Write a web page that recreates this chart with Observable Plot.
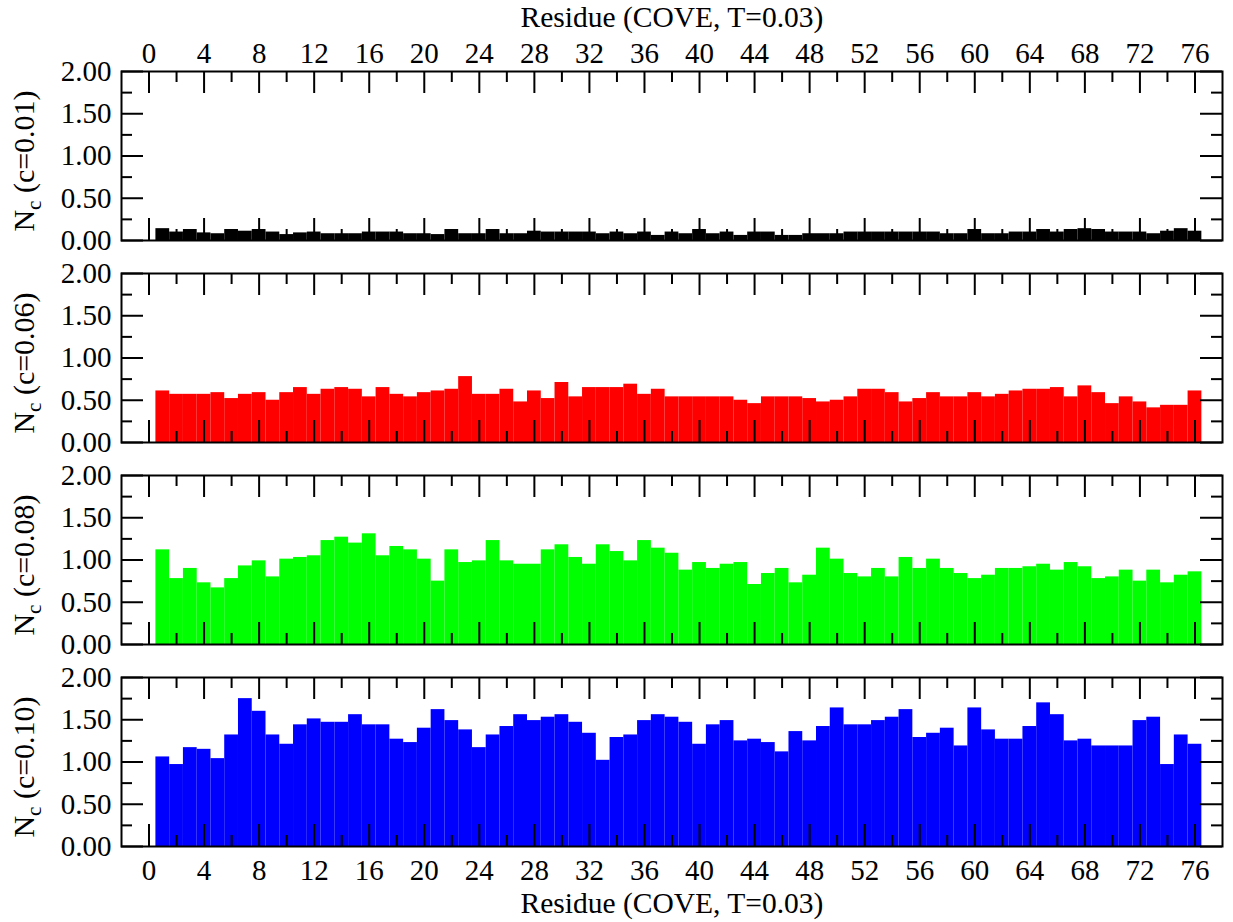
<!DOCTYPE html>
<html>
<head>
<meta charset="utf-8">
<script src="https://cdn.jsdelivr.net/npm/d3@7"></script>
<script src="https://cdn.jsdelivr.net/npm/@observablehq/plot@0.6"></script>
<style>
  body { margin: 0; background: #fff; }
  #chart svg { display: block; }
</style>
</head>
<body>
<div id="chart"></div>
<script>
// ---------- data ----------
const residues = [1,2,3,4,5,6,7,8,9,10,11,12,13,14,15,16,17,18,19,20,21,22,23,24,25,26,27,28,29,30,31,32,33,34,35,36,37,38,39,40,41,42,43,44,45,46,47,48,49,50,51,52,53,54,55,56,57,58,59,60,61,62,63,64,65,66,67,68,69,70,71,72,73,74,75,76];

const seriesNames = ["c=0.01", "c=0.06", "c=0.08", "c=0.10"];

const nc001 = [0.14,0.10,0.13,0.09,0.08,0.13,0.11,0.13,0.10,0.07,0.09,0.10,0.08,0.08,0.08,0.10,0.10,0.10,0.08,0.08,0.07,0.13,0.08,0.08,0.13,0.08,0.08,0.11,0.10,0.10,0.10,0.10,0.08,0.10,0.08,0.10,0.06,0.10,0.08,0.13,0.08,0.10,0.06,0.10,0.10,0.06,0.06,0.08,0.08,0.08,0.10,0.10,0.10,0.10,0.10,0.10,0.10,0.08,0.08,0.13,0.08,0.08,0.10,0.10,0.13,0.10,0.13,0.14,0.13,0.10,0.10,0.10,0.08,0.11,0.14,0.11];

const nc006 = [0.61,0.57,0.57,0.57,0.59,0.52,0.57,0.59,0.50,0.59,0.65,0.57,0.63,0.65,0.63,0.54,0.65,0.57,0.54,0.59,0.61,0.63,0.78,0.57,0.57,0.63,0.48,0.61,0.52,0.71,0.54,0.65,0.65,0.65,0.69,0.57,0.63,0.54,0.54,0.54,0.54,0.54,0.50,0.46,0.54,0.54,0.54,0.52,0.48,0.50,0.54,0.63,0.63,0.59,0.48,0.52,0.59,0.54,0.54,0.59,0.54,0.57,0.61,0.63,0.63,0.65,0.54,0.67,0.59,0.46,0.54,0.48,0.41,0.44,0.44,0.61];

const nc008 = [1.12,0.78,0.90,0.73,0.67,0.78,0.93,0.99,0.80,1.01,1.03,1.05,1.23,1.27,1.20,1.31,1.05,1.16,1.12,1.01,0.75,1.12,0.97,0.99,1.23,0.99,0.95,0.95,1.12,1.18,1.03,0.95,1.18,1.10,0.99,1.23,1.14,1.08,0.88,0.97,0.90,0.95,0.97,0.71,0.84,0.90,0.73,0.82,1.14,1.01,0.84,0.80,0.90,0.80,1.03,0.90,1.01,0.90,0.84,0.78,0.82,0.90,0.90,0.92,0.95,0.88,0.97,0.92,0.78,0.80,0.88,0.75,0.88,0.73,0.82,0.86];

const nc010 = [1.06,0.97,1.17,1.15,1.04,1.32,1.75,1.60,1.32,1.21,1.44,1.51,1.47,1.47,1.56,1.44,1.44,1.27,1.23,1.40,1.62,1.49,1.38,1.17,1.32,1.42,1.56,1.49,1.53,1.56,1.47,1.34,1.02,1.29,1.32,1.49,1.56,1.53,1.47,1.21,1.44,1.49,1.25,1.27,1.23,1.12,1.36,1.25,1.42,1.64,1.44,1.44,1.49,1.53,1.62,1.29,1.34,1.40,1.19,1.64,1.38,1.27,1.27,1.42,1.70,1.56,1.25,1.27,1.19,1.19,1.19,1.49,1.53,0.97,1.32,1.21];

const xMajorTicks = [0,4,8,12,16,20,24,28,32,36,40,44,48,52,56,60,64,68,72,76];
const xMinorTicks = [2,6,10,14,18,22,26,30,34,38,42,46,50,54,58,62,66,70,74];
const yMajorTicks = [0, 0.5, 1, 1.5, 2];
const yMinorTicks = [0.25, 0.75, 1.25, 1.75];
const xTitle = "Residue (COVE, T=0.03)";

// ---------- styling ----------
const seriesColors = ["#000000", "#ff0000", "#00ff00", "#0000ff"];
const W = 1233, H = 922;
const mT = 71, mB = 76, mL = 121, mR = 11;
const padInner = 0.1634;
const bandH = (H - mT - mB) / (seriesNames.length - padInner) * (1 - padInner);
const frameW = W - mL - mR;
const majLen = 22, minLen = 11;
const font = "'Liberation Serif', 'Times New Roman', Times, serif";

// ---------- table ----------
const seriesValues = [nc001, nc006, nc008, nc010];
const rows = seriesNames.flatMap((s, i) =>
  residues.map((r, j) => ({series: s, residue: r, value: seriesValues[i][j]})));
const panelLabels = seriesNames.map(s => ({series: s, label: `N_c (${s})`}));

const tickStyle = {stroke: "#000", strokeWidth: 2};

const svg = Plot.plot({
  width: W, height: H,
  marginTop: mT, marginBottom: mB, marginLeft: mL, marginRight: mR,
  style: {fontFamily: font, fontSize: "29px", background: "#fff", color: "#000"},
  x: {domain: [-2, 78]},
  y: {domain: [0, 2]},
  fy: {domain: seriesNames, paddingInner: padInner, paddingOuter: 0, round: false, axis: null, label: null},
  color: {domain: seriesNames, range: seriesColors},
  marks: [
    Plot.rect(rows, {
      x1: d => d.residue - 0.5, x2: d => d.residue + 0.5,
      y1: () => 0, y2: "value",
      fy: "series", fill: "series"
    }),
    // inward ticks: top & bottom
    Plot.tickX(xMajorTicks, {x: d => d, insetBottom: bandH - majLen, ...tickStyle}),
    Plot.tickX(xMinorTicks, {x: d => d, insetBottom: bandH - minLen, ...tickStyle}),
    Plot.tickX(xMajorTicks, {x: d => d, insetTop: bandH - majLen, ...tickStyle}),
    Plot.tickX(xMinorTicks, {x: d => d, insetTop: bandH - minLen, ...tickStyle}),
    // inward ticks: left & right
    Plot.tickY(yMajorTicks, {y: d => d, insetRight: frameW - majLen, ...tickStyle}),
    Plot.tickY(yMinorTicks, {y: d => d, insetRight: frameW - minLen, ...tickStyle}),
    Plot.tickY(yMajorTicks, {y: d => d, insetLeft: frameW - majLen, ...tickStyle}),
    Plot.tickY(yMinorTicks, {y: d => d, insetLeft: frameW - minLen, ...tickStyle}),
    Plot.frame({stroke: "#000", strokeWidth: 2}),
    // axis labels
    Plot.axisX({anchor: "top", ticks: [], tickSize: 0,
      label: xTitle, labelAnchor: "center", labelOffset: 65, labelArrow: "none", fontSize: 29.5}),
    Plot.axisX({anchor: "top", ticks: xMajorTicks, tickSize: 0, tickPadding: 9, label: null}),
    Plot.axisX({anchor: "bottom", ticks: xMajorTicks, tickSize: 0, tickPadding: 13, label: null}),
    Plot.axisX({anchor: "bottom", ticks: [], tickSize: 0,
      label: xTitle, labelAnchor: "center", labelOffset: 66, labelArrow: "none", fontSize: 29.5}),
    Plot.axisY({anchor: "left", ticks: yMajorTicks, tickSize: 0, tickPadding: 10,
      tickFormat: d3.format(".2f"), label: null}),
    Plot.text(panelLabels, {
      fy: "series", text: "label", frameAnchor: "left",
      rotate: -90, dx: -97, dy: 5, textAnchor: "middle", fill: "#000", fontSize: 30
    })
  ]
});

// subscript "c" in N_c
d3.select(svg).selectAll("text")
  .filter(function () { return this.textContent.startsWith("N_c"); })
  .each(function () {
    const rest = this.textContent.slice(3);
    this.textContent = "";
    const t = d3.select(this);
    t.append("tspan").text("N");
    t.append("tspan").attr("dy", 7).attr("font-size", "21px").text("c");
    t.append("tspan").attr("dy", -7).text(rest);
  });

document.getElementById("chart").appendChild(svg);
</script>
</body>
</html>
